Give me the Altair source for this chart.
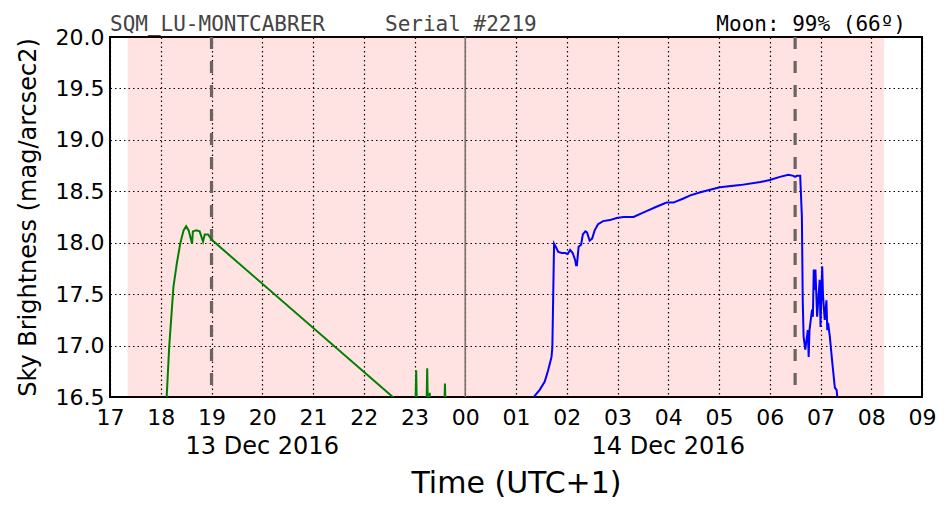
import altair as alt
import pandas as pd

# ---- data ----
green_times = ["2016-12-13T18:05", "2016-12-13T18:07", "2016-12-13T18:10", "2016-12-13T18:15", "2016-12-13T18:19",
               "2016-12-13T18:23", "2016-12-13T18:27", "2016-12-13T18:30", "2016-12-13T18:33", "2016-12-13T18:37",
               "2016-12-13T18:38", "2016-12-13T18:42", "2016-12-13T18:46", "2016-12-13T18:50", "2016-12-13T18:52",
               "2016-12-13T18:56", "2016-12-13T19:00", "2016-12-13T23:01", "2016-12-13T23:02", "2016-12-13T23:03",
               "2016-12-13T23:14", "2016-12-13T23:15", "2016-12-13T23:16", "2016-12-13T23:17", "2016-12-13T23:18",
               "2016-12-13T23:19", "2016-12-13T23:35", "2016-12-13T23:36", "2016-12-13T23:37", "2016-12-13T23:50"]
green_values = [16.30, 16.50, 16.99, 17.57, 17.80,
                17.99, 18.12, 18.16, 18.12, 17.99,
                18.11, 18.12, 18.11, 18.01, 18.08,
                18.08, 18.03, 16.31, 16.76, 16.30,
                16.30, 16.78, 16.30, 16.30, 16.54,
                16.30, 16.30, 16.63, 16.30, 16.30]

blue_times = ["2016-12-14T01:15", "2016-12-14T01:21", "2016-12-14T01:28", "2016-12-14T01:34", "2016-12-14T01:38",
              "2016-12-14T01:42", "2016-12-14T01:43", "2016-12-14T01:45", "2016-12-14T01:47", "2016-12-14T01:50",
              "2016-12-14T01:54", "2016-12-14T01:58", "2016-12-14T02:01", "2016-12-14T02:04", "2016-12-14T02:07",
              "2016-12-14T02:10", "2016-12-14T02:11", "2016-12-14T02:12", "2016-12-14T02:14", "2016-12-14T02:17",
              "2016-12-14T02:19", "2016-12-14T02:22", "2016-12-14T02:24", "2016-12-14T02:27", "2016-12-14T02:30",
              "2016-12-14T02:33", "2016-12-14T02:37", "2016-12-14T02:43", "2016-12-14T02:51", "2016-12-14T02:59",
              "2016-12-14T03:07", "2016-12-14T03:19", "2016-12-14T03:27", "2016-12-14T03:35", "2016-12-14T03:46",
              "2016-12-14T03:58", "2016-12-14T04:06", "2016-12-14T04:18", "2016-12-14T04:26", "2016-12-14T04:38",
              "2016-12-14T05:01", "2016-12-14T05:25", "2016-12-14T05:49", "2016-12-14T06:00", "2016-12-14T06:12",
              "2016-12-14T06:22", "2016-12-14T06:28", "2016-12-14T06:30", "2016-12-14T06:32", "2016-12-14T06:36",
              "2016-12-14T06:38", "2016-12-14T06:39", "2016-12-14T06:40", "2016-12-14T06:42", "2016-12-14T06:44",
              "2016-12-14T06:45", "2016-12-14T06:46", "2016-12-14T06:47", "2016-12-14T06:50", "2016-12-14T06:51",
              "2016-12-14T06:52", "2016-12-14T06:53", "2016-12-14T06:54", "2016-12-14T06:56", "2016-12-14T06:59",
              "2016-12-14T07:00", "2016-12-14T07:02", "2016-12-14T07:03", "2016-12-14T07:05", "2016-12-14T07:07",
              "2016-12-14T07:08", "2016-12-14T07:09", "2016-12-14T07:11", "2016-12-14T07:14", "2016-12-14T07:17",
              "2016-12-14T07:19", "2016-12-14T07:20", "2016-12-14T07:22"]
blue_values = [16.30, 16.50, 16.57, 16.65, 16.76,
               16.89, 16.99, 17.99, 17.96, 17.91,
               17.90, 17.90, 17.89, 17.93, 17.90,
               17.83, 17.78, 17.78, 17.96, 17.98,
               18.08, 18.11, 18.10, 18.02, 18.04,
               18.12, 18.18, 18.21, 18.22, 18.24,
               18.25, 18.25, 18.28, 18.31, 18.35,
               18.39, 18.39, 18.43, 18.46, 18.49,
               18.54, 18.56, 18.59, 18.61, 18.64,
               18.66, 18.65, 18.64, 18.65, 18.65,
               18.25, 17.44, 17.09, 16.96, 17.09,
               17.15, 16.89, 17.15, 17.35, 17.28,
               17.74, 17.54, 17.74, 17.28, 17.64,
               17.18, 17.77, 17.48, 17.25, 17.44,
               17.15, 17.22, 17.09, 16.83, 16.59,
               16.57, 16.49, 16.30]

night_start = ["2016-12-13T17:21"]
night_end = ["2016-12-14T08:15"]
twilight_marks = ["2016-12-13T19:00", "2016-12-14T06:30"]
midnight = ["2016-12-14T00:00"]
date_label_times = ["2016-12-13T20:00", "2016-12-14T04:00"]
date_label_texts = ["13 Dec 2016", "14 Dec 2016"]
tick_hours = [(13, h) for h in range(17, 24)] + [(14, h) for h in range(0, 10)]

FONT = "DejaVu Sans"
MONO = "DejaVu Sans Mono"

x_dom = [alt.DateTime(year=2016, month=12, date=13, hours=17),
         alt.DateTime(year=2016, month=12, date=14, hours=9)]
x_vals = [alt.DateTime(year=2016, month=12, date=d, hours=h) for d, h in tick_hours]

xscale = alt.Scale(domain=x_dom)
yscale = alt.Scale(domain=[16.5, 20.0], nice=False, zero=False)

x_axis = alt.Axis(values=x_vals, format="%H", title="Time (UTC+1)", labelFontSize=22,
                  titleFontSize=30, titleFontWeight="normal", titlePadding=40, labelPadding=10,
                  grid=True, gridColor="black", gridDash=[1.5, 3], gridOpacity=1, gridWidth=1.2,
                  ticks=False, domain=False, labelFont=FONT, titleFont=FONT, labelColor="black",
                  titleColor="black", labelFlush=False)
y_axis = alt.Axis(values=[16.5 + 0.5 * i for i in range(8)], format=".1f",
                  title="Sky Brightness (mag/arcsec2)", labelFontSize=22, titleFontSize=24,
                  titleFontWeight="normal", titlePadding=15, labelPadding=6,
                  grid=True, gridColor="black", gridDash=[1.5, 3], gridOpacity=1, gridWidth=1.2,
                  ticks=False, domain=False, labelFont=FONT, titleFont=FONT, labelColor="black",
                  titleColor="black")

df_green = pd.DataFrame({"t": green_times, "v": green_values})
df_blue = pd.DataFrame({"t": blue_times, "v": blue_values})
df_span = pd.DataFrame({"s": night_start, "e": night_end})
df_twi = pd.DataFrame({"t": twilight_marks})
df_mid = pd.DataFrame({"t": midnight})
df_dates = pd.DataFrame({"t": date_label_times, "label": date_label_texts})

base_axes = alt.Chart(df_green).mark_line(opacity=0).encode(
    x=alt.X("t:T", scale=xscale, axis=x_axis),
    y=alt.Y("v:Q", scale=yscale, axis=y_axis),
)

span = alt.Chart(df_span).mark_rect(color="#ff0000", opacity=0.11, stroke="#ff0000",
                                    strokeOpacity=0.15, strokeWidth=1.5).encode(
    x=alt.X("s:T", scale=xscale), x2="e:T")

twi = alt.Chart(df_twi).mark_rule(color="#6b6363", strokeWidth=3.2, strokeDash=[12, 12]).encode(
    x=alt.X("t:T", scale=xscale))

mid = alt.Chart(df_mid).mark_rule(color="#7a7272", strokeWidth=1.6).encode(
    x=alt.X("t:T", scale=xscale))

green = alt.Chart(df_green).mark_line(color="#008000", strokeWidth=2, clip=True).encode(
    x=alt.X("t:T", scale=xscale), y=alt.Y("v:Q", scale=yscale))

blue = alt.Chart(df_blue).mark_line(color="#0000ff", strokeWidth=2, clip=True).encode(
    x=alt.X("t:T", scale=xscale), y=alt.Y("v:Q", scale=yscale))

dates = alt.Chart(df_dates).mark_text(fontSize=24, font=FONT, color="black", baseline="middle").encode(
    x=alt.X("t:T", scale=xscale), y=alt.value(410), text="label:N")

top_left = alt.Chart(pd.DataFrame({"txt": ["SQM_LU-MONTCABRER"]})).mark_text(
    fontSize=21, font=MONO, color="#444444", align="left", baseline="alphabetic").encode(
    x=alt.value(0), y=alt.value(-6), text="txt:N")
top_mid = alt.Chart(pd.DataFrame({"txt": ["Serial #2219"]})).mark_text(
    fontSize=21, font=MONO, color="#444444", align="left", baseline="alphabetic").encode(
    x=alt.value(275), y=alt.value(-6), text="txt:N")
top_right = alt.Chart(pd.DataFrame({"txt": ["Moon: 99% (66º)"]})).mark_text(
    fontSize=21, font=MONO, color="black", align="right", baseline="alphabetic").encode(
    x=alt.value(796), y=alt.value(-6), text="txt:N")

chart = alt.layer(base_axes, span, twi, mid, green, blue, dates, top_left, top_mid, top_right).properties(
    width=812, height=360,
    autosize=alt.AutoSizeParams(type="none"),
    padding={"left": 110, "top": 37, "right": 30, "bottom": 115},
    background="white",
).configure_view(stroke="black", strokeWidth=2)

chart.save("out.html", embed_options={"renderer": "svg", "actions": False})
